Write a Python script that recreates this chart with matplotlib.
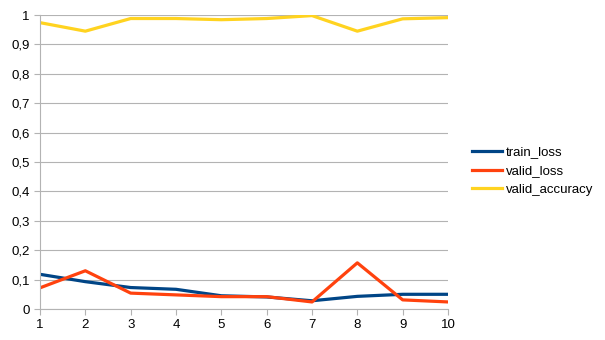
import matplotlib.pyplot as plt
from matplotlib.ticker import FuncFormatter

epochs = [1, 2, 3, 4, 5, 6, 7, 8, 9, 10]
train_loss = [0.118, 0.093, 0.073, 0.067, 0.045, 0.041, 0.028, 0.043, 0.050, 0.050]
valid_loss = [0.072, 0.130, 0.054, 0.048, 0.042, 0.042, 0.024, 0.157, 0.031, 0.024]
valid_accuracy = [0.974, 0.945, 0.988, 0.988, 0.984, 0.988, 0.998, 0.945, 0.987, 0.991]

plt.rcParams['font.family'] = ['Liberation Sans', 'DejaVu Sans']

fig = plt.figure(figsize=(6.05, 3.4), dpi=100)
ax = fig.add_axes([40 / 605, 1 - 309 / 340, 408 / 605, 294 / 340])

ax.plot(epochs, train_loss, color='#004586', lw=2.3, label='train_loss')
ax.plot(epochs, valid_loss, color='#ff420e', lw=2.3, label='valid_loss')
ax.plot(epochs, valid_accuracy, color='#ffd320', lw=2.3, label='valid_accuracy')

ax.set_xlim(1, 10)
ax.set_ylim(0, 1)
ax.set_xticks(epochs)
ax.set_yticks([i / 10 for i in range(11)])
ax.yaxis.set_major_formatter(FuncFormatter(lambda v, p: ('%g' % round(v, 1)).replace('.', ',')))
ax.grid(axis='y', color='#b3b3b3', lw=0.8)
ax.set_axisbelow(True)
for s in ['top', 'right']:
    ax.spines[s].set_visible(False)
for s in ['left', 'bottom']:
    ax.spines[s].set_color('#b3b3b3')
ax.tick_params(colors='#b3b3b3', labelcolor='black', labelsize=9.5, length=4)

fig.legend(loc='center left', bbox_to_anchor=(460 / 605, 1 - 171 / 340), frameon=False,
           fontsize=9.5, handlelength=2.3, handletextpad=0.3, labelspacing=0.5)

fig.savefig('out.png', dpi=100)
